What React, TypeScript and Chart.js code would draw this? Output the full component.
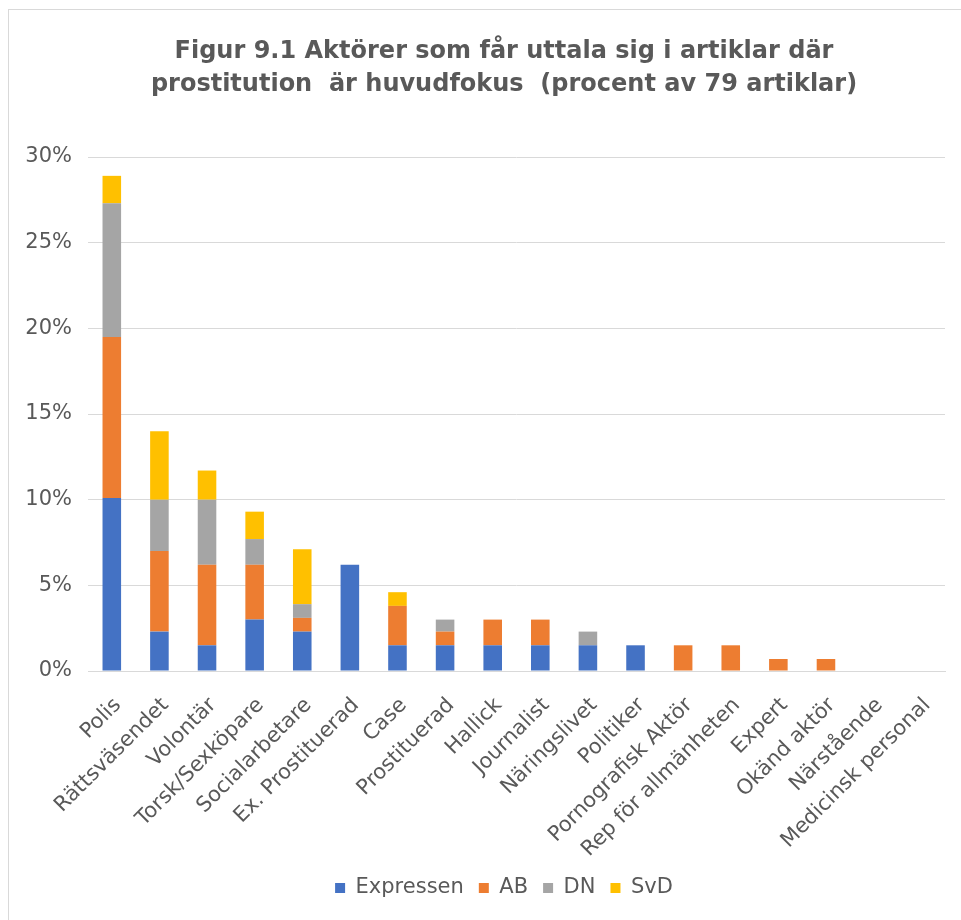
import React, { useEffect, useRef } from "react";
import { Chart, registerables } from "chart.js";

Chart.register(...registerables);

const categories = [
  "Polis",
  "Rättsväsendet",
  "Volontär",
  "Torsk/Sexköpare",
  "Socialarbetare",
  "Ex. Prostituerad",
  "Case",
  "Prostituerad",
  "Hallick",
  "Journalist",
  "Näringslivet",
  "Politiker",
  "Pornografisk Aktör",
  "Rep för allmänheten",
  "Expert",
  "Okänd aktör",
  "Närstående",
  "Medicinsk personal",
];

const expressen = [10.1, 2.3, 1.5, 3.0, 2.3, 6.2, 1.5, 1.5, 1.5, 1.5, 1.5, 1.5, 0, 0, 0, 0, 0, 0];
const ab = [9.4, 4.7, 4.7, 3.2, 0.8, 0, 2.3, 0.8, 1.5, 1.5, 0, 0, 1.5, 1.5, 0.7, 0.7, 0, 0];
const dn = [7.8, 3.0, 3.8, 1.5, 0.8, 0, 0, 0.7, 0, 0, 0.8, 0, 0, 0, 0, 0, 0, 0];
const svd = [1.6, 4.0, 1.7, 1.6, 3.2, 0, 0.8, 0, 0, 0, 0, 0, 0, 0, 0, 0, 0, 0];

const seriesNames = ["Expressen", "AB", "DN", "SvD"];
const seriesColors = ["#4472C4", "#ED7D31", "#A5A5A5", "#FFC000"];

const titleLines = [
  "Figur 9.1 Aktörer som får uttala sig i artiklar där",
  "prostitution  är huvudfokus  (procent av 79 artiklar)",
];

const yMax = 30;
const yStep = 5;

const TEXT = "#595959";
const GRID = "#D9D9D9";

export default function App() {
  const ref = useRef<HTMLCanvasElement | null>(null);

  useEffect(() => {
    if (!ref.current) return;
    const values = [expressen, ab, dn, svd];
    const chart = new Chart(ref.current, {
      type: "bar",
      data: {
        labels: categories,
        datasets: seriesNames.map((name, i) => ({
          label: name,
          data: values[i],
          backgroundColor: seriesColors[i],
          borderWidth: 0,
          barPercentage: 0.39,
          categoryPercentage: 1,
          yAxisID: "y",
        })),
      },
      options: {
        animation: false,
        responsive: true,
        maintainAspectRatio: false,
        layout: { padding: { left: 0, right: 0, top: 0, bottom: 12.5 } },
        plugins: {
          title: {
            display: true,
            text: titleLines,
            color: TEXT,
            font: { family: "'DejaVu Sans'", size: 24, weight: "bold", lineHeight: 1.375 },
            padding: { top: 25, bottom: 56 },
          },
          legend: {
            position: "bottom",
            labels: {
              color: TEXT,
              font: { family: "'DejaVu Sans'", size: 21 },
              boxWidth: 10,
              boxHeight: 10,
              padding: 15,
            },
          },
          tooltip: { enabled: false },
        },
        scales: {
          x: {
            stacked: true,
            grid: { display: false, drawTicks: false },
            border: { display: true, color: GRID },
            ticks: {
              color: TEXT,
              font: { family: "'DejaVu Sans'", size: 21 },
              minRotation: 45,
              maxRotation: 45,
              autoSkip: false,
              padding: 22,
              labelOffset: 6,
            },
            afterFit: (scale: any) => {
              scale.height = 191.5;
            },
          },
          y: {
            stacked: true,
            min: 0,
            max: yMax,
            grid: { color: GRID, drawTicks: false },
            border: { display: false },
            ticks: {
              stepSize: yStep,
              color: TEXT,
              font: { family: "'DejaVu Sans'", size: 21 },
              padding: 16,
              callback: (v: any) => `${v}%`,
            },
            afterFit: (scale: any) => {
              scale.width = 79;
            },
          },
          yRightSpace: {
            position: "right",
            display: true,
            grid: { display: false, drawTicks: false },
            border: { display: false },
            ticks: { display: false },
            afterFit: (scale: any) => {
              scale.width = 54;
            },
          },
        },
      },
    });
    return () => chart.destroy();
  }, []);

  return (
    <div
      style={{
        position: "fixed",
        left: 8,
        top: 9,
        width: 952,
        height: 911,
        overflow: "hidden",
        borderTop: "1px solid #D9D9D9",
        borderLeft: "1px solid #D9D9D9",
        background: "#fff",
      }}
    >
      <div style={{ position: "relative", width: 990, height: 911 }}>
        <canvas ref={ref} />
      </div>
    </div>
  );
}
